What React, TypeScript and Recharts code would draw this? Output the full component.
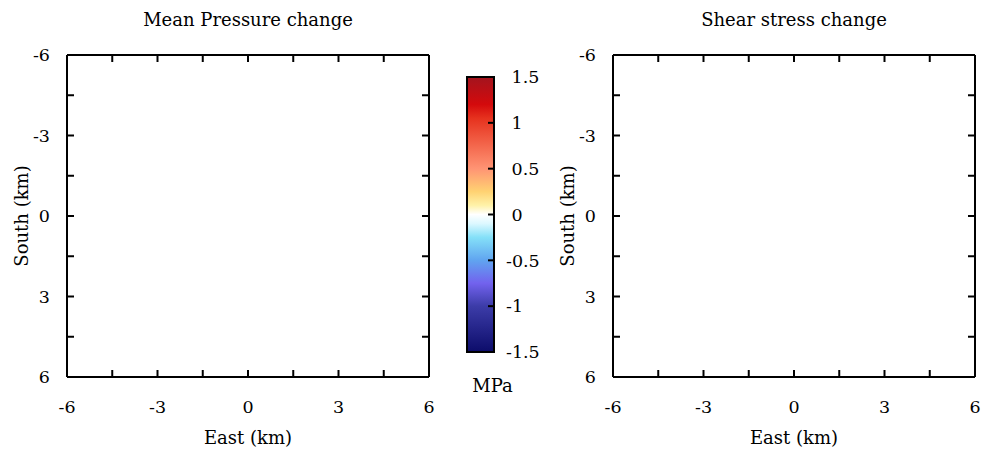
import React from 'react';
import { ScatterChart, Scatter, XAxis, YAxis, Label, ComposedChart, Bar } from 'recharts';

// ---- data ----
const plotTitles = ['Mean Pressure change', 'Shear stress change'];
const xAxisTitle = 'East (km)';
const yAxisTitle = 'South (km)';
const kmDomain: [number, number] = [-6, 6];
const kmTicks = [-6, -4.5, -3, -1.5, 0, 1.5, 3, 4.5, 6];
const kmLabelStep = 3;
const pressurePoints: { x: number; y: number }[] = [];
const shearPoints: { x: number; y: number }[] = [];

const cbarUnit = 'MPa';
const cbarDomain: [number, number] = [-1.5, 1.5];
const cbarTicks = [-1.5, -1, -0.5, 0, 0.5, 1, 1.5];
const cbarInnerTicks = [-1, -0.5, 0, 0.5, 1];
const cbarValues = [1.5, 1.2, 1.05, 0.5, 0.25, 0.1, 0, -0.1, -0.25, -0.5, -0.75, -1, -1.5];
const cbarColors = ['#a3141e', '#d40a0c', '#e6321e', '#ff9474', '#ffd272', '#fff2a8', '#ffffff', '#dcf8ff', '#84e0f8', '#60a4f0', '#7262ee', '#3c3ca8', '#0c0c6a'];
const cbarData = [{ name: cbarUnit, range: cbarDomain }];

const FONT = "'DejaVu Serif', serif";
const FS = 17.5;
const TFS = 18;

const fmtKm = (v: number) => (v % kmLabelStep === 0 ? String(v) : '');
const blank = () => '';

function Plot({ left, width, title, points }: { left: number; width: number; title: string; points: { x: number; y: number }[] }) {
  const tickStyle = { fontFamily: FONT, fontSize: FS, fill: '#000' };
  const axLine = { stroke: '#000', strokeWidth: 2 };
  const tkLine = { stroke: '#000', strokeWidth: 2 };
  return (
    <div style={{ position: 'absolute', left, top: 0 }}>
      <ScatterChart width={width} height={456} margin={{ top: 54, left: 66, right: width - 430, bottom: 78 }}>
        <XAxis xAxisId="b" type="number" dataKey="x" orientation="bottom" domain={kmDomain} ticks={kmTicks} interval={0} allowDataOverflow
          height={1} tickSize={-7} tickMargin={31} tickFormatter={fmtKm} tick={tickStyle} axisLine={axLine} tickLine={tkLine}>
          <Label content={(p: any) => {
            const vb = p.viewBox;
            return <text x={vb.x + vb.width / 2} y={vb.y + 67} textAnchor="middle" fontFamily={FONT} fontSize={TFS}>{xAxisTitle}</text>;
          }} />
        </XAxis>
        <XAxis xAxisId="t" type="number" dataKey="x" orientation="top" domain={kmDomain} ticks={kmTicks} interval={0} allowDataOverflow
          height={1} tickSize={-7} tickFormatter={blank} axisLine={axLine} tickLine={tkLine}>
          <Label content={(p: any) => {
            const vb = p.viewBox;
            return <text x={vb.x + vb.width / 2} y={vb.y + vb.height - 29} textAnchor="middle" fontFamily={FONT} fontSize={TFS}>{title}</text>;
          }} />
        </XAxis>
        <YAxis yAxisId="l" type="number" dataKey="y" orientation="left" domain={kmDomain} ticks={kmTicks} interval={0} reversed allowDataOverflow
          width={1} tickSize={-7} tickMargin={24} tickFormatter={fmtKm} tick={tickStyle} axisLine={axLine} tickLine={tkLine}>
          <Label content={(p: any) => {
            const vb = p.viewBox;
            const cx = vb.x + vb.width - 46;
            const cy = vb.y + vb.height / 2;
            return <text x={cx} y={cy} transform={`rotate(-90, ${cx}, ${cy})`} textAnchor="middle" dominantBaseline="central" fontFamily={FONT} fontSize={TFS}>{yAxisTitle}</text>;
          }} />
        </YAxis>
        <YAxis yAxisId="r" type="number" dataKey="y" orientation="right" domain={kmDomain} ticks={kmTicks} interval={0} reversed allowDataOverflow
          width={1} tickSize={-7} tickFormatter={blank} axisLine={axLine} tickLine={tkLine} />
        <Scatter data={points} xAxisId="b" yAxisId="l" fill="#000" isAnimationActive={false} />
        <Scatter data={points} xAxisId="t" yAxisId="r" fill="#000" isAnimationActive={false} />
      </ScatterChart>
    </div>
  );
}

function ColorBar() {
  const W = 120;
  const axLine = { stroke: '#000', strokeWidth: 2 };
  const tkLine = { stroke: '#000', strokeWidth: 2 };
  return (
    <div style={{ position: 'absolute', left: 440, top: 0 }}>
      <ComposedChart width={W} height={456} data={cbarData} barCategoryGap={0} margin={{ top: 77, left: 26, right: W - 55, bottom: 103 }}>
        <defs>
          <linearGradient id="cbGrad" x1="0" y1="0" x2="0" y2="1">
            {cbarValues.map((v, i) => (
              <stop key={i} offset={(cbarDomain[1] - v) / (cbarDomain[1] - cbarDomain[0])} stopColor={cbarColors[i]} />
            ))}
          </linearGradient>
        </defs>
        <Bar dataKey="range" yAxisId="r" fill="url(#cbGrad)" stroke="#000" strokeWidth={2} isAnimationActive={false} />
        <XAxis dataKey="name" orientation="bottom" height={1} tick={false} axisLine={false} tickLine={false}>
          <Label content={(p: any) => {
            const vb = p.viewBox;
            return <text x={vb.x + vb.width / 2 + 12} y={vb.y + 40} textAnchor="middle" fontFamily={FONT} fontSize={TFS}>{cbarUnit}</text>;
          }} />
        </XAxis>
        <YAxis yAxisId="l" type="number" orientation="left" domain={cbarDomain} ticks={cbarInnerTicks} interval={0}
          width={1} tickSize={-6} tickFormatter={blank} axisLine={axLine} tickLine={tkLine} />
        <YAxis yAxisId="r" type="number" orientation="right" domain={cbarDomain} ticks={cbarTicks} interval={0}
          width={1} tickSize={-6} tickMargin={18} axisLine={axLine} tickLine={tkLine}
          tickFormatter={(v: number) => (v >= 0 ? '\u00a0' + v : String(v))}
          tick={{ fontFamily: FONT, fontSize: FS, fill: '#000' }} />
      </ComposedChart>
    </div>
  );
}

export default function App() {
  return (
    <div style={{ position: 'absolute', left: 0, top: 0, width: 984, height: 456, background: '#fff', overflow: 'hidden' }}>
      <Plot left={0} width={460} title={plotTitles[0]} points={pressurePoints} />
      <ColorBar />
      <Plot left={546} width={438} title={plotTitles[1]} points={shearPoints} />
    </div>
  );
}
